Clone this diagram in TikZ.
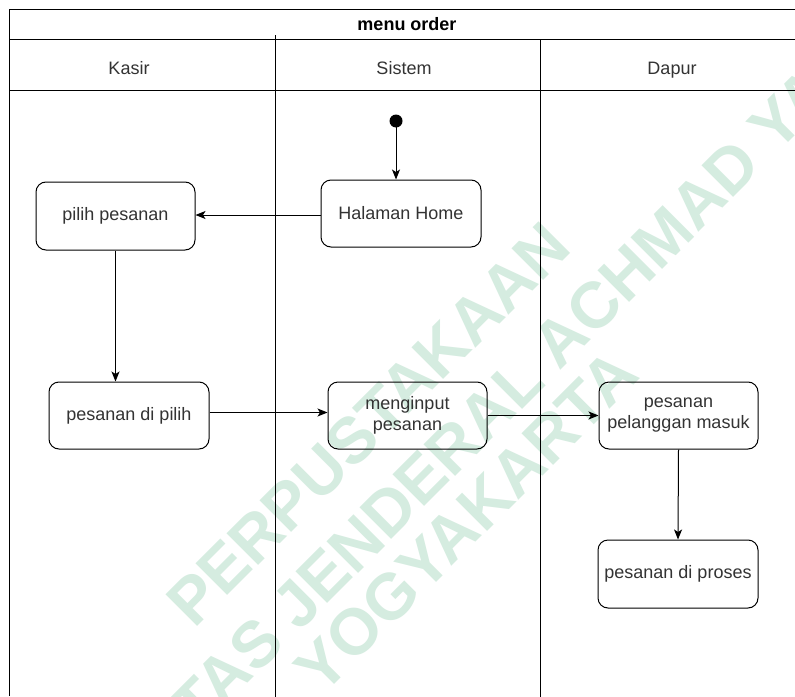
\documentclass[tikz,border=0pt]{standalone}
\usepackage{fontspec}
\setmainfont{Liberation Sans}
\usetikzlibrary{arrows.meta}
\definecolor{ink}{RGB}{51,51,51}
\definecolor{wm}{RGB}{213,236,224}

\begin{document}
\begin{tikzpicture}[x=1pt,y=-1pt,
  act/.style={draw=black, rounded corners=10pt, line width=1pt, text=ink,
    font=\fontsize{18}{21}\selectfont, align=center, inner sep=0pt},
  flow/.style={draw=black, line width=1pt, -{Stealth[length=10pt,width=8pt,inset=2.5pt]}},
  lane/.style={draw=black, line width=1pt},
  hdr/.style={text=ink, font=\fontsize{18}{21}\selectfont, anchor=base, inner sep=0pt},
  wmark/.style={text=wm, font=\fontsize{65}{70}\selectfont\bfseries, rotate=45, inner sep=0pt}
]
\useasboundingbox (0,0) rectangle (795,696);
\clip (0,0) rectangle (795,696);
\fill[white] (0,0) rectangle (795,696);

% library stamp behind the diagram
\node[wmark] (wm1) at (368,424) {PERPUSTAKAAN};
\node[wmark] (wm2) at (416,484) {UNIVERSITAS JENDERAL ACHMAD YANI};
\node[wmark] (wm3) at (466,521) {YOGYAKARTA};

% pool frame, title row and swimlanes
\draw[lane] (9,696) -- (9,9) -- (810,9);
\draw[lane] (9,39) -- (810,39);
\draw[lane] (9,90) -- (810,90);
\draw[lane] (275,35) -- (275,700);
\draw[lane] (540,39) -- (540,700);

\node[hdr, font=\fontsize{18}{21}\selectfont\bfseries, text=black] (title) at (407,30) {menu order};
\node[hdr] (kasir) at (129,74) {Kasir};
\node[hdr] (sistem) at (404,74) {Sistem};
\node[hdr] (dapur) at (672,74) {Dapur};

% activities
\fill[black] (396,121) circle (6.5pt);
\coordinate (start) at (396,121);
\node[act, minimum width=160pt, minimum height=67pt] (home) at (401,213.5) {Halaman Home};
\node[act, minimum width=159pt, minimum height=68pt] (pick) at (115.5,216) {pilih pesanan};
\node[act, minimum width=160pt, minimum height=67pt] (chosen) at (129,415.5) {pesanan di pilih};
\node[act, minimum width=159pt, minimum height=67pt] (input) at (407.5,415.5) {menginput\\pesanan};
\node[act, minimum width=159pt, minimum height=67pt] (incoming) at (678.5,415.5) {pesanan\\pelanggan masuk};
\node[act, minimum width=160pt, minimum height=68pt] (process) at (678,574) {pesanan di proses};

% control flow
\draw[flow] (start) -- (start |- home.north);
\draw[flow] ([yshift=-1.5pt]home.west) -- ([yshift=-1.5pt]home.west -| pick.east);
\draw[flow] (pick.south) -- (pick.south |- chosen.north);
\draw[flow] ([yshift=3pt]chosen.east) -- ([yshift=3pt]chosen.east -| input.west);
\draw[flow] (input.east) -- (incoming.west);
\draw[flow] (incoming.south) -- (process.north);
\end{tikzpicture}
\end{document}
